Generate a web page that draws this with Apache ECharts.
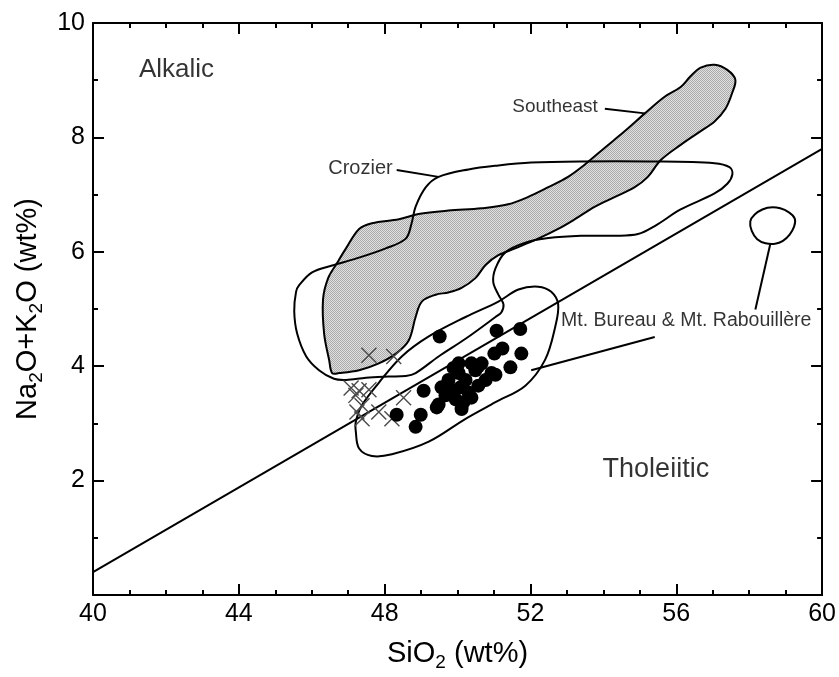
<!DOCTYPE html>
<html>
<head>
<meta charset="utf-8">
<title>Total alkali vs silica</title>
<script src="https://cdn.jsdelivr.net/npm/echarts@6/dist/echarts.min.js"></script>
<style>
  html, body { margin: 0; padding: 0; background: #fff; }
  #chart { width: 839px; height: 677px; }
</style>
</head>
<body>
<div id="chart"></div>
<script>
// ---- Axis tick labels ----
const xTickLabels = ['40', '44', '48', '52', '56', '60'];
const yTickLabels = ['2', '4', '6', '8', '10'];

// ---- Alkalic / tholeiitic divide (SiO2, Na2O+K2O) ----
const divideLine = [[40, 0.4], [60, 7.8]];

// ---- Field outlines (SiO2, Na2O+K2O) ----
const southeastField = [
  [46.56, 3.88], [46.48, 4.10], [46.34, 4.57], [46.31, 5.17], [46.45, 5.54], [46.69, 5.80],
  [46.94, 6.06], [47.30, 6.40], [47.65, 6.50], [48.39, 6.57], [48.93, 6.66], [49.75, 6.72],
  [50.66, 6.76], [51.39, 6.83], [51.94, 6.96], [52.49, 7.13], [53.03, 7.31], [53.50, 7.53],
  [54.04, 7.82], [54.59, 8.11], [55.14, 8.42], [55.68, 8.71], [56.12, 8.88], [56.39, 9.07],
  [56.67, 9.22], [57.05, 9.27], [57.40, 9.18], [57.62, 9.01], [57.54, 8.79], [57.35, 8.50],
  [57.05, 8.28], [56.67, 8.11], [56.12, 7.87], [55.57, 7.60], [55.22, 7.31], [54.86, 7.13],
  [54.32, 6.96], [53.77, 6.79], [53.22, 6.57], [52.76, 6.40], [52.21, 6.23], [51.58, 6.06],
  [51.12, 5.94], [50.77, 5.77], [50.49, 5.54], [50.11, 5.37], [49.75, 5.29], [49.40, 5.25],
  [49.02, 5.13], [48.85, 4.86], [48.66, 4.45], [48.31, 4.22], [47.84, 4.05], [47.30, 3.93],
  [46.75, 3.88]
];
const crozierField = [
  [49.48, 7.31], [50.30, 7.44], [51.12, 7.51], [52.02, 7.56], [53.39, 7.58], [55.22, 7.58],
  [57.05, 7.55], [57.46, 7.48], [57.54, 7.36], [57.40, 7.19], [57.05, 7.02], [56.12, 6.74],
  [55.41, 6.45], [54.95, 6.31], [54.32, 6.28], [53.39, 6.28], [52.49, 6.24], [51.86, 6.16],
  [51.31, 5.99], [51.04, 5.71], [50.98, 5.47], [51.12, 5.25], [51.26, 5.08], [51.20, 4.94],
  [51.04, 4.86], [50.22, 4.48], [49.48, 4.17], [48.85, 3.88], [48.58, 3.83], [48.11, 3.82],
  [47.49, 3.80], [46.94, 3.76], [46.61, 3.78], [46.20, 3.93], [45.85, 4.17], [45.60, 4.57],
  [45.52, 4.96], [45.57, 5.30], [45.66, 5.42], [46.01, 5.64], [46.56, 5.76], [47.21, 5.88],
  [48.03, 6.06], [48.58, 6.23], [48.74, 6.50], [48.85, 6.79], [49.13, 7.13]
];
const bureauField = [
  [52.21, 5.39], [52.57, 5.30], [52.76, 5.08], [52.68, 4.69], [52.40, 4.11], [51.86, 3.66],
  [51.04, 3.37], [50.22, 3.08], [49.21, 2.68], [48.20, 2.46], [47.65, 2.43], [47.30, 2.56],
  [47.21, 2.85], [47.21, 3.03], [47.38, 3.32], [47.84, 3.71], [48.47, 4.17], [49.21, 4.52],
  [50.22, 4.86], [51.12, 5.13], [51.67, 5.34]
];
const smallField = [
  [58.03, 6.53], [58.36, 6.74], [58.85, 6.76], [59.25, 6.58], [59.11, 6.30], [58.71, 6.14],
  [58.22, 6.22]
];

// ---- Samples ----
const bureauSamples = [
  [49.51, 4.52], [51.07, 4.62], [51.72, 4.65], [51.75, 4.22], [51.45, 3.98], [51.23, 4.31],
  [51.01, 4.22], [51.04, 3.85], [50.66, 4.05], [50.49, 3.93], [49.07, 3.57], [48.99, 3.15],
  [48.85, 2.94], [48.33, 3.15], [49.43, 3.28], [50.11, 3.25], [49.89, 3.97], [50.03, 3.88],
  [50.22, 3.76], [49.75, 3.76], [49.56, 3.63], [49.84, 3.59], [50.08, 3.63], [50.30, 3.54],
  [49.67, 3.49], [49.95, 3.42], [50.16, 3.37], [50.38, 3.45], [50.57, 3.66], [50.77, 3.76],
  [50.93, 3.88], [50.57, 4.00], [50.38, 4.05], [50.03, 4.05], [49.48, 3.33]
];
const otherSamples = [
  [47.57, 4.19], [48.25, 4.17], [47.08, 3.62], [47.30, 3.57], [47.57, 3.59], [47.21, 3.49],
  [47.38, 3.31], [47.24, 3.20], [47.38, 3.08], [48.52, 3.45], [48.20, 3.08], [47.84, 3.20]
];

// ---- Leader lines from labels to fields ----
const leaderLines = [
  [[54.04, 8.50], [55.14, 8.42]],
  [[48.33, 7.43], [49.48, 7.31]],
  [[52.02, 3.93], [55.41, 4.51]],
  [[58.58, 6.14], [58.17, 4.99]]
];

// ---- Text annotations ----
const annotations = [
  { text: 'Alkalic', at: [41.26, 9.19], align: 'left', size: 26 },
  { text: 'Tholeiitic', at: [55.44, 2.20], align: 'center', size: 27 },
  { text: 'Southeast', at: [53.85, 8.54], align: 'right', size: 19 },
  { text: 'Crozier', at: [48.22, 7.46], align: 'right', size: 20 },
  { text: 'Mt. Bureau & Mt. Rabouillère', at: [52.84, 4.79], align: 'left', size: 19.5 }
];

const FONT = '"Liberation Sans", Arial, Helvetica, sans-serif';

// stippled grey fill for the shaded field
const stipple = document.createElement('canvas');
stipple.width = 2; stipple.height = 2;
(function () {
  const c = stipple.getContext('2d');
  c.fillStyle = '#e0e0e0'; c.fillRect(0, 0, 2, 2);
  c.fillStyle = '#ababab'; c.fillRect(0, 0, 1, 1); c.fillRect(1, 1, 1, 1);
})();

function fieldSeries(pts, fill, z) {
  return {
    type: 'custom',
    coordinateSystem: 'cartesian2d',
    silent: true,
    z: z,
    data: [pts[0]],
    renderItem: function (params, api) {
      return {
        type: 'polygon',
        shape: { points: pts.map(function (p) { return api.coord(p); }), smooth: 0.35 },
        style: { fill: fill, stroke: '#000', lineWidth: 2 }
      };
    }
  };
}

const axisLine = { show: true, onZero: false, lineStyle: { color: '#000', width: 2 } };
const axisTick = { show: true, inside: true, length: 11, lineStyle: { color: '#000', width: 2 } };
const minorTickStyle = { show: true, length: 5, lineStyle: { color: '#000', width: 2 } };

const subRich = {
  n: { fontFamily: FONT, fontSize: 29, color: '#000', lineHeight: 36, verticalAlign: 'middle' },
  s: { fontFamily: FONT, fontSize: 19, color: '#000', lineHeight: 15, verticalAlign: 'bottom' }
};

function makeAxis(extra, split) {
  return Object.assign({
    type: 'value',
    axisLine: axisLine,
    axisTick: axisTick,
    minorTick: Object.assign({}, minorTickStyle, { splitNumber: split }),
    splitLine: { show: false },
    minorSplitLine: { show: false }
  }, extra);
}

const chart = echarts.init(document.getElementById('chart'), null, { renderer: 'canvas' });

chart.setOption({
  animation: false,
  backgroundColor: '#fff',
  grid: { left: 93, right: 14, top: 23, bottom: 70, containLabel: false },
  xAxis: [
    makeAxis({
      min: 40, max: 60, interval: 4, position: 'bottom',
      axisLabel: {
        margin: 7, color: '#000', fontFamily: FONT, fontSize: 25,
        formatter: function (v) { const s = String(v); return xTickLabels.indexOf(s) >= 0 ? s : ''; }
      },
      name: '{n|SiO}{s|2}{n| (wt%)}', nameLocation: 'middle', nameGap: 41,
      nameTextStyle: { rich: subRich }
    }, 4),
    makeAxis({ min: 40, max: 60, interval: 4, position: 'top', axisLabel: { show: false } }, 4)
  ],
  yAxis: [
    makeAxis({
      min: 0, max: 10, interval: 2, position: 'left',
      axisLabel: {
        margin: 8, color: '#000', fontFamily: FONT, fontSize: 25,
        formatter: function (v) { const s = String(v); return yTickLabels.indexOf(s) >= 0 ? s : ''; }
      },
      name: '{n|Na}{s|2}{n|O+K}{s|2}{n|O (wt%)}', nameLocation: 'middle', nameGap: 45,
      nameRotate: 90,
      nameTextStyle: { rich: subRich }
    }, 2),
    makeAxis({ min: 0, max: 10, interval: 2, position: 'right', axisLabel: { show: false } }, 2)
  ],
  series: [
    fieldSeries(southeastField, { image: stipple, repeat: 'repeat' }, 2),
    fieldSeries(crozierField, 'none', 3),
    fieldSeries(bureauField, 'none', 3),
    fieldSeries(smallField, 'none', 3),
    {
      type: 'line',
      data: divideLine,
      symbol: 'none',
      silent: true,
      z: 4,
      lineStyle: { color: '#000', width: 2 }
    },
    {
      type: 'custom',
      coordinateSystem: 'cartesian2d',
      silent: true,
      z: 4,
      data: leaderLines.map(function (l) { return l[0]; }),
      renderItem: function (params, api) {
        const l = leaderLines[params.dataIndex];
        const a = api.coord(l[0]), b = api.coord(l[1]);
        return {
          type: 'line',
          shape: { x1: a[0], y1: a[1], x2: b[0], y2: b[1] },
          style: { stroke: '#000', lineWidth: 2 }
        };
      }
    },
    {
      type: 'scatter',
      data: otherSamples,
      symbol: 'path://M0,0L10,10M10,0L0,10',
      symbolSize: 15,
      silent: true,
      z: 5,
      itemStyle: { color: 'transparent', borderColor: '#4a4a4a', borderWidth: 1.4, opacity: 1 }
    },
    {
      type: 'scatter',
      data: bureauSamples,
      symbol: 'circle',
      symbolSize: 14,
      silent: true,
      z: 6,
      itemStyle: { color: '#000', opacity: 1 }
    },
    {
      type: 'scatter',
      silent: true,
      z: 7,
      symbolSize: 1,
      itemStyle: { color: 'transparent' },
      data: annotations.map(function (a) {
        return {
          value: a.at,
          label: {
            show: true, position: 'inside', formatter: a.text,
            align: a.align, verticalAlign: 'middle',
            color: '#000', fontFamily: FONT, fontSize: a.size
          }
        };
      })
    }
  ]
});
</script>
</body>
</html>
